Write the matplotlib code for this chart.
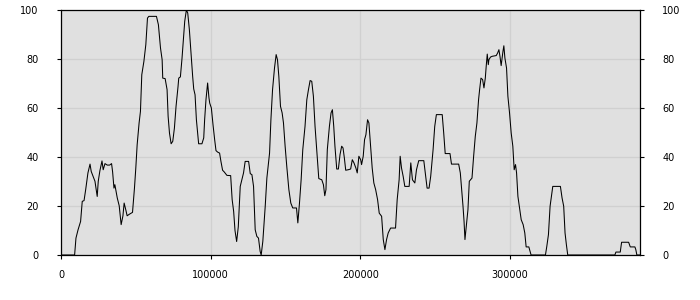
import matplotlib
matplotlib.use("Agg")
import matplotlib.pyplot as plt

# -----------------------------
# data
# -----------------------------
x_vals = [
    0, 9100, 10000, 11400, 13100, 14200, 15400, 16500, 18000, 19400,
    20200, 22700, 24200, 24900, 26000, 27400, 28200, 29400, 30900, 32500,
    33800, 34500, 35400, 36000, 37600, 38900, 40200, 41400, 42200, 43400,
    44200, 45600, 46900, 47800, 49100, 50000, 50900, 52200, 53100, 54000,
    55400, 56700, 57800, 58700, 63800, 65100, 66500, 67600, 68000, 69600,
    70900, 71600, 72500, 73600, 74700, 75800, 76900, 78200, 78700, 79800,
    80900, 81800, 82700, 83800, 84700, 85800, 87100, 88000, 88700, 89600,
    90500, 91400, 92000, 94200, 95400, 96000, 96900, 98000, 98900, 99400,
    100500, 101600, 102700, 103600, 104700, 106000, 106900, 108000, 109100, 110900,
    113400, 114400, 115400, 116300, 117400, 118500, 119800, 120900, 122000, 123100,
    125400, 126500, 127600, 128700, 129800, 130900, 132000, 133100, 133800, 134900,
    136500, 137600, 139400, 140300, 141400, 142700, 143800, 144700, 145600, 146700,
    147800, 148700, 149800, 150900, 152300, 153600, 154900, 157400, 158300, 159400,
    160500, 161600, 163100, 164300, 165400, 166500, 167600, 168700, 169800, 170900,
    172300, 174300, 175400, 176300, 177100, 178000, 179400, 180500, 181400, 182300,
    183100, 184300, 185400, 186500, 187600, 188500, 189400, 190300, 192000, 193600,
    194700, 195800, 197100, 198000, 199100, 200300, 200900, 202000, 202900, 203800,
    204900, 205800, 206900, 208000, 209100, 210300, 211600, 212700, 214300, 215400,
    216500, 217600, 218700, 220300, 223600, 224700, 226000, 226700, 227600, 228700,
    229800, 232700, 233800, 234900, 236500, 237600, 239100, 242500, 243600, 244700,
    246000, 247100, 248700, 249800, 250900, 254800, 255800, 256800, 260000, 261000,
    265800, 266900, 268000, 268700, 269400, 270000, 270900, 272000, 272900, 274700,
    275800, 276900, 278000, 279100, 279800, 280700, 281800, 282700, 283600, 284200,
    284900, 285600, 286000, 287100, 288200, 290900, 291800, 292700, 293400, 294200,
    295400, 296000, 296700, 297800, 298700, 299800, 300900, 302000, 302900, 303800,
    304500, 305400, 306500, 307600, 308900, 310000, 310900, 312700, 314200, 323800,
    324700, 325800, 326900, 328700, 333800, 334900, 336000, 336900, 337800, 338700,
    370200, 370900, 373800, 374700, 379400, 380500, 383600, 384200, 384900, 387000,
]
y_vals = [
    0, 0, 6.9, 10.3, 13.7, 21.9, 22.2, 26.7, 33.5, 37.1,
    34.1, 30.1, 23.9, 30.1, 34.4, 38.4, 34.8, 37.3, 36.7, 36.7,
    37.3, 33.9, 27.3, 28.7, 23.3, 20.1, 12.4, 16.0, 21.2, 18.2,
    16.0, 16.6, 17.1, 17.4, 27.3, 35.5, 45.0, 53.9, 58.6, 73.6,
    79.0, 85.9, 96.7, 97.4, 97.4, 94.0, 84.5, 79.7, 72.2, 72.0,
    67.5, 56.6, 49.8, 45.4, 46.4, 51.8, 60.7, 68.6, 72.2, 72.7,
    80.4, 87.9, 95.4, 100.0, 98.8, 92.0, 80.4, 72.9, 67.8, 65.4,
    55.2, 49.1, 45.4, 45.4, 47.8, 55.2, 63.4, 70.2, 64.1, 62.0,
    60.0, 53.2, 47.1, 42.6, 42.0, 41.6, 38.2, 34.6, 33.9, 32.5,
    32.4, 22.6, 17.8, 10.0, 5.5, 11.5, 28.0, 30.7, 33.5, 38.2,
    38.2, 33.2, 32.8, 28.0, 10.3, 7.6, 6.9, 1.5, 0, 5.6,
    19.9, 31.4, 41.6, 55.2, 67.5, 76.3, 81.8, 79.7, 72.9, 60.7,
    58.0, 53.9, 44.4, 36.2, 26.7, 21.2, 19.2, 19.2, 13.1, 21.2,
    30.7, 43.0, 52.5, 63.4, 67.5, 71.2, 70.9, 64.8, 52.5, 43.0,
    31.2, 30.7, 28.7, 24.2, 26.7, 43.0, 52.5, 58.0, 59.3, 52.5,
    44.4, 35.1, 35.1, 41.0, 44.4, 43.7, 39.6, 34.6, 34.8, 35.1,
    38.9, 37.6, 35.5, 33.5, 40.3, 38.9, 36.9, 40.3, 47.1, 49.1,
    55.2, 53.9, 44.4, 35.5, 29.4, 26.7, 22.6, 17.1, 15.8, 6.3,
    2.2, 6.3, 9.0, 11.0, 11.0, 22.6, 30.7, 40.3, 35.5, 32.1,
    28.0, 28.0, 37.6, 30.7, 29.4, 34.8, 38.5, 38.5, 32.8, 27.3,
    27.3, 32.1, 43.0, 52.5, 57.3, 57.3, 49.8, 41.4, 41.4, 37.1,
    37.1, 33.5, 25.3, 19.9, 13.7, 6.3, 11.7, 18.5, 30.1, 31.4,
    40.3, 48.4, 53.9, 63.4, 67.5, 72.2, 71.6, 68.2, 72.2, 77.0,
    82.0, 77.7, 79.7, 80.8, 81.1, 81.4, 82.4, 83.8, 81.1, 77.3,
    83.1, 85.4, 80.4, 76.3, 64.8, 58.0, 49.8, 44.4, 34.8, 36.9,
    33.5, 23.9, 19.2, 14.4, 12.4, 9.0, 3.3, 3.3, 0, 0,
    3.5, 8.3, 19.9, 28.0, 28.0, 23.3, 19.9, 9.0, 4.2, 0,
    0, 1.2, 1.2, 5.2, 5.2, 3.3, 3.3, 2.2, 0, 0,
]
x_ticks = [0, 100000, 200000, 300000]
y_ticks = [0, 20, 40, 60, 80, 100]

# -----------------------------
# plot
# -----------------------------
fig = plt.figure(figsize=(7, 3), dpi=100)
ax = fig.add_axes([61 / 700, 45 / 300, 579 / 700, 245 / 300])
ax.set_facecolor("#e0e0e0")

ax.plot(x_vals, y_vals, color="black", linewidth=0.75)

ax.set_xlim(0, 387000)
ax.set_ylim(0, 100)
ax.set_xticks(x_ticks)
ax.set_xticklabels([str(t) for t in x_ticks])
ax.set_yticks(y_ticks)
ax.set_yticklabels([str(t) for t in y_ticks])

ax.grid(True, color="#d0d0d0", linewidth=0.9)
ax.set_axisbelow(True)
for s in ax.spines.values():
    s.set_color("black")
    s.set_linewidth(0.9)

ax.tick_params(axis="both", direction="out", length=3, width=0.8,
               labelsize=7, colors="black")
ax.tick_params(axis="y", left=True, right=True, labelleft=True,
               labelright=True, pad=13)
ax.tick_params(axis="x", pad=8)

fig.savefig("out.png", dpi=100, facecolor="white")
